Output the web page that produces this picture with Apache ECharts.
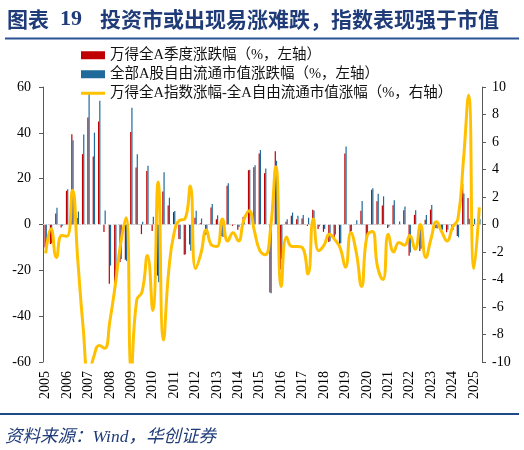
<!DOCTYPE html>
<html><head><meta charset="utf-8">
<script src="https://cdn.jsdelivr.net/npm/echarts@6/dist/echarts.min.js"></script>
<style>html,body{margin:0;padding:0;background:#fff}#c{width:524px;height:450px}</style>
</head><body><div id="c"></div>
<script>
const years = ['2005','2006','2007','2008','2009','2010','2011','2012','2013','2014','2015','2016','2017','2018','2019','2020','2021','2022','2023','2024','2025'];
const quarters = ['Q1','Q2','Q3','Q4'];
const lastYearQuarterCount = 2;
const categories = [];
years.forEach((y, yi) => {
  const n = yi === years.length - 1 ? lastYearQuarterCount : 4;
  for (let q = 0; q < n; q++) categories.push(y + quarters[q]);
});

// 万得全A季度涨跌幅（%）
const windAllA = [
  -10, -8.5, 4.8, -1.3,
  14.7, 39.4, 2.8, 30.7,
  46.7, 29.7, 45, -3.3,
  -25.8, -29.1, -16.4, -15.4,
  40.4, 24.9, -4.2, 23.4,
  -2.8, -22.3, 14.4, 8.3,
  5.4, -6.3, -13.2, -8.7,
  3, 0.6, -4.5, 7.4,
  2.3, -5, 16.9, -0.6,
  -2.3, 3.3, 23.7, 25,
  31, 22.4, -29.7, 32,
  -19.6, 1.2, 3.8, 2.3,
  2.6, -0.6, 6.4, -2,
  -3.2, -7.6, -5.5, -10,
  31, -3.9, 0.1, 6,
  -6.3, 15.2, 10.2, 8.3,
  -1.5, 8.4, 0, 6.2,
  -13.6, 4.2, -11.6, 2.1,
  6.5, -1.5, -2.8, -3.4,
  -2.6, -5.0, 17.8, 11.6,
  -0.7, 3.6
];
// 全部A股自由流通市值涨跌幅（%）
const freeFloatCap = [
  -7.9, -8.3, 7.3, -0.5,
  15.4, 36.8, 5.7, 39.3,
  57.6, 40.1, 54, 6.1,
  -17.9, -23, -15, -15.9,
  51, 30.7, 1.2, 25.6,
  3.4, -25.2, 22.8, 11.7,
  5.9, -6.4, -13, -11.5,
  6, 2.6, -4.1, 8.9,
  4, -5.4, 18, 0,
  -1.1, 3.8, 23.9, 25.9,
  32.5, 24.4, -30, 27.8,
  -15.1, 2.3, 5.2, 3.8,
  4.2, 3, 6.1, -0.9,
  -2, -7.3, -4.4, -8.2,
  34, -2.8, 1.9, 10.3,
  -5.5, 15.8, 13.4, 12.3,
  -0.9, 10.6, 1.3, 7.9,
  -12.2, 6.2, -10.6, 4.2,
  8.5, -1.7, -2.3, -2.3,
  -2.3, -5.6, 13.5, 2.5,
  2.5, 2.4
];
// 万得全A指数涨幅-全A自由流通市值涨幅（%，右轴）
const spread = [
  -2.1, -0.3, -2.4, -0.8,
  -0.85, 2.5, -2.6, -7.5,
  -11, -9.6, -8.8, -9.0,
  -7.0, -4.4, -1.4, 0.5,
  -10.6, -5.5, -4.9, -2.25,
  -6.25, 3.1, -8.4, -3.3,
  -0.6, 0.3, 0.4, 2.8,
  -3.2, -2.1, -0.4, -1.5,
  -1.6, 0.4, -1.2, -0.6,
  -1.2, 0.3, 1.0, -0.5,
  -1.9, -2.2, -0.3, 4.2,
  -4.5, -0.9, -1.6, -1.6,
  -1.7, -3.6, 0.4, -1.9,
  -1.5, -0.7, -1.1, -1.7,
  -3.1, -0.6, -2.0, -4.5,
  -0.85, -0.5, -3.1, -4.0,
  -0.7, -2.0, -1.3, -1.5,
  -0.8, -1.8, 0.0, -2.4,
  -1.0, 0.2, -0.55, -1.2,
  -0.2, 0.4, 4.5, 9.4,
  -3.2, 1.25
];
const leftTicks = {min: -60, max: 60, interval: 20};
const rightTicks = {min: -10, max: 10, interval: 2};

const serif = '"Liberation Serif", "Noto Sans CJK SC", serif';
const navy = '#1F3C78';
const chart = echarts.init(document.getElementById('c'));
chart.setOption({
  animation: false,
  backgroundColor: '#fff',
  graphic: [
    {type: 'text', x: 7, y: 19, style: {text: '图表', font: 'bold 21px "Noto Sans CJK SC"', fill: navy, align: 'left', verticalAlign: 'middle'}},
    {type: 'text', x: 60, y: 19, style: {text: '19', font: 'bold 22px "Liberation Serif"', fill: navy, align: 'left', verticalAlign: 'middle'}},
    {type: 'text', x: 100, y: 19, style: {text: '投资市或出现易涨难跌，指数表现强于市值', font: 'bold 21px "Noto Sans CJK SC"', fill: navy, align: 'left', verticalAlign: 'middle'}},
    {type: 'line', shape: {x1: 5, y1: 38.5, x2: 519, y2: 38.5}, style: {stroke: '#2A5294', lineWidth: 2}},
    {type: 'line', shape: {x1: 0, y1: 414, x2: 519, y2: 414}, style: {stroke: '#1F4A8A', lineWidth: 2}},
    {type: 'text', x: 5, y: 437, style: {text: '资料来源：Wind，华创证券', font: 'italic 17.5px "Liberation Serif", "Noto Sans CJK SC"', fill: navy, align: 'left', verticalAlign: 'middle'}}
  ],
  legend: {
    orient: 'vertical', left: 76, top: 43, itemWidth: 24, itemHeight: 8, itemGap: 4.5,
    textStyle: {fontSize: 14.5, fontFamily: serif, color: '#111', lineHeight: 14},
    data: [
      {name: '万得全A季度涨跌幅（%，左轴）', icon: 'rect'},
      {name: '全部A股自由流通市值涨跌幅（%，左轴）', icon: 'rect'},
      {name: '万得全A指数涨幅-全A自由流通市值涨幅（%，右轴）', icon: 'path://M0,0H24V3H0Z', itemStyle: {color: '#FFC000'}}
    ]
  },
  grid: {left: 43, right: 42, top: 87, bottom: 88, containLabel: false},
  xAxis: {
    type: 'category', data: categories, boundaryGap: true,
    axisLine: {show: false, onZero: false},
    axisTick: {show: false},
    axisLabel: {
      rotate: 90, margin: 9, fontSize: 14, fontFamily: serif, color: '#000',
      interval: (idx) => idx % 4 === 0,
      formatter: (v) => v.slice(0, 4)
    },
    splitLine: {show: false}
  },
  yAxis: [
    {type: 'value', min: leftTicks.min, max: leftTicks.max, interval: leftTicks.interval,
     axisLine: {show: true, lineStyle: {color: '#595959', width: 1}},
     axisTick: {show: true, length: 4, lineStyle: {color: '#595959'}},
     axisLabel: {fontSize: 14, fontFamily: serif, color: '#000', margin: 12},
     splitLine: {show: false}},
    {type: 'value', position: 'right', min: rightTicks.min, max: rightTicks.max, interval: rightTicks.interval,
     axisLine: {show: true, lineStyle: {color: '#595959', width: 1}},
     axisTick: {show: true, length: 4, lineStyle: {color: '#595959'}},
     axisLabel: {fontSize: 14, fontFamily: serif, color: '#000', margin: 10},
     splitLine: {show: false}}
  ],
  series: [
    {name: '万得全A季度涨跌幅（%，左轴）', type: 'bar', data: windAllA, barWidth: 1.2, barGap: '0%',
     itemStyle: {color: '#C00000'},
     markLine: {silent: true, symbol: 'none', label: {show: false},
       lineStyle: {color: '#D0D0D0', type: [3, 2], width: 1}, data: [{yAxis: 0}]}},
    {name: '全部A股自由流通市值涨跌幅（%，左轴）', type: 'bar', data: freeFloatCap, barWidth: 1.2, barGap: '0%',
     itemStyle: {color: '#1F6A9A'}},
    {name: '万得全A指数涨幅-全A自由流通市值涨幅（%，右轴）', type: 'line', yAxisIndex: 1, data: spread,
     smooth: 0.5, symbol: 'none', showSymbol: false, z: 5, clip: true,
     lineStyle: {color: '#FFC000', width: 3}, itemStyle: {color: '#FFC000'}}
  ]
});
</script>
</body></html>
